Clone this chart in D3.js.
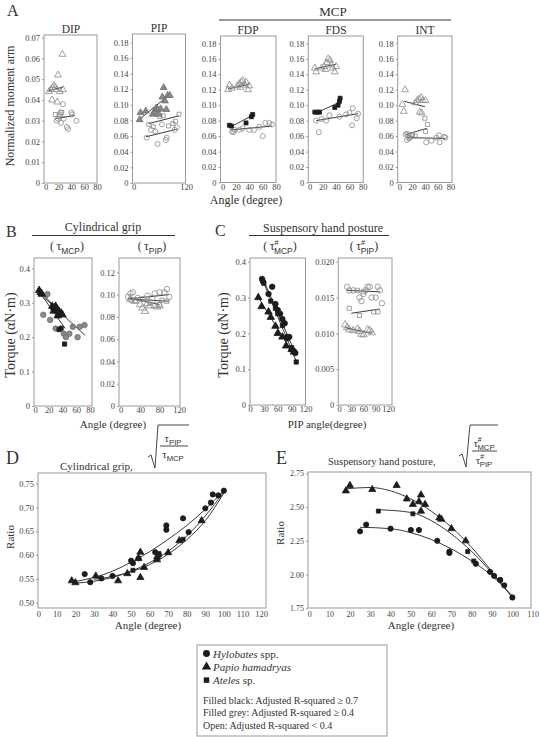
<!DOCTYPE html>
<html>
<head>
<meta charset="utf-8">
<script src="https://cdn.jsdelivr.net/npm/d3@7"></script>
<style>
body { margin: 0; background: #fff; }
svg { font-family: "Liberation Serif", "DejaVu Serif", serif; }
</style>
</head>
<body>
<svg width="540" height="737"></svg>
<script>
// ---- data ----
// A: normalized moment arm vs angle
var dipTri  = [[5,0.044],[8,0.045],[10,0.040],[11,0.046],[13,0.047],[15,0.046],[17,0.045],[18,0.039],[19,0.052],[22,0.044],[26,0.062],[27,0.045]];
var dipCirc = [[17,0.030],[19,0.031],[22,0.033],[23,0.034],[27,0.038],[28,0.031],[33,0.027],[35,0.026],[40,0.034],[41,0.033],[48,0.030],[24,0.029]];
var dipSq   = [[15,0.033],[21,0.032],[25,0.034]];
var dipTriFit  = [[5,0.0445],[27,0.0462]];
var dipCircFit = [[15,0.031],[45,0.0325]];

var pipTri  = [[14,0.081],[16,0.090],[28,0.092],[44,0.088],[48,0.091],[52,0.096],[55,0.094],[58,0.088],[62,0.095],[66,0.110],[69,0.122],[72,0.105],[75,0.094],[78,0.112],[83,0.112]];
var pipSq   = [[35,0.075],[45,0.072],[60,0.085],[68,0.086],[80,0.073],[90,0.076],[96,0.079],[104,0.088]];
var pipCirc = [[30,0.058],[40,0.068],[50,0.066],[55,0.050],[65,0.075],[74,0.055],[76,0.058],[94,0.068],[99,0.071]];
var pipTriFit  = [[15,0.082],[80,0.112]];
var pipSqFit   = [[35,0.076],[104,0.086]];
var pipCircFit = [[28,0.059],[100,0.069]];

var fdpTri  = [[8,0.120],[10,0.126],[14,0.122],[22,0.125],[25,0.128],[27,0.123],[28,0.130],[30,0.132],[33,0.126],[35,0.130],[38,0.120],[40,0.125]];
var fdpSq   = [[10,0.074],[13,0.073],[35,0.077],[43,0.085],[45,0.088]];
var fdpCirc = [[14,0.066],[16,0.065],[18,0.068],[25,0.068],[30,0.070],[40,0.068],[47,0.068],[55,0.072],[60,0.060],[64,0.077],[70,0.077],[74,0.075]];
var fdpTriFit  = [[8,0.121],[40,0.127]];
var fdpSqFit   = [[10,0.071],[45,0.087]];
var fdpCircFit = [[12,0.068],[74,0.073]];

var fdsTri  = [[8,0.148],[10,0.143],[18,0.148],[22,0.150],[24,0.146],[26,0.155],[28,0.160],[31,0.158],[33,0.152],[35,0.148],[38,0.143],[40,0.150]];
var fdsSq   = [[8,0.091],[12,0.091],[15,0.091],[38,0.097],[43,0.100],[45,0.105],[46,0.109]];
var fdsCirc = [[10,0.080],[14,0.065],[18,0.082],[25,0.080],[30,0.087],[45,0.085],[55,0.088],[60,0.090],[65,0.096],[64,0.074],[71,0.083],[73,0.089]];
var fdsTriFit  = [[8,0.147],[40,0.153]];
var fdsSqFit   = [[10,0.090],[46,0.104]];
var fdsCircFit = [[10,0.080],[73,0.089]];

var intTri  = [[5,0.101],[7,0.092],[9,0.120],[25,0.103],[28,0.106],[31,0.108],[34,0.110],[37,0.106],[41,0.106],[32,0.091],[35,0.090]];
var intSq   = [[12,0.063],[16,0.058],[20,0.062],[25,0.060],[41,0.066],[44,0.075],[40,0.083]];
var intCirc = [[10,0.062],[12,0.055],[15,0.057],[20,0.060],[42,0.052],[50,0.054],[58,0.058],[62,0.061],[63,0.052],[70,0.059],[72,0.058]];
var intTriFit  = [[8,0.105],[40,0.098]];
var intSqFit   = [[10,0.062],[43,0.070]];
var intCircFit = [[12,0.058],[72,0.057]];

// B: cylindrical grip torque
var bMcpTri  = [[6,0.336],[8,0.330],[10,0.325],[25,0.290],[27,0.276],[28,0.285],[30,0.290],[32,0.280],[33,0.262],[35,0.275],[38,0.270],[40,0.265]];
var bMcpCirc = [[12,0.265],[15,0.320],[18,0.325],[22,0.250],[30,0.225],[42,0.210],[45,0.200],[50,0.210],[55,0.230],[62,0.200],[65,0.230],[72,0.235]];
var bMcpSq   = [[8,0.326],[30,0.280],[35,0.222],[38,0.226],[43,0.180]];
var bMcpTriFit  = [[5,0.338],[40,0.265]];
var bMcpCircFit = [[5,0.330],[73,0.205]];
var bMcpSqFit   = [[5,0.335],[44,0.225]];

var bPipCirc = [[15,0.098],[20,0.101],[25,0.102],[22,0.095],[30,0.095],[35,0.097],[45,0.096],[55,0.099],[65,0.097],[70,0.101],[80,0.102],[90,0.102],[95,0.105],[100,0.098]];
var bPipTri  = [[20,0.096],[30,0.094],[40,0.091],[45,0.088],[50,0.085],[55,0.092],[60,0.090],[70,0.090],[75,0.089],[80,0.090]];
var bPipSq   = [[60,0.093],[80,0.091],[85,0.095],[95,0.094]];
var bPipCircFit = [[15,0.096],[100,0.100]];
var bPipTriFit  = [[15,0.097],[80,0.091]];
var bPipSqFit   = [[20,0.096],[100,0.094]];

// C: suspensory hand posture torque
var cMcpCirc = [[26,0.352],[28,0.345],[40,0.310],[48,0.330],[55,0.282],[60,0.265],[65,0.255],[70,0.240],[75,0.228],[80,0.190],[85,0.190],[90,0.155],[95,0.150],[98,0.145]];
var cMcpTri  = [[18,0.300],[25,0.275],[40,0.260],[45,0.245],[55,0.220],[60,0.200],[70,0.190],[78,0.165],[90,0.155],[95,0.148]];
var cMcpSq   = [[30,0.340],[45,0.290],[55,0.270],[60,0.255],[70,0.222],[80,0.185],[90,0.160],[100,0.120]];
var cMcpCircFit = [[27,0.355],[98,0.145]];
var cMcpTriFit  = [[18,0.300],[95,0.140]];
var cMcpSqFit   = [[30,0.340],[100,0.122]];

var cPipCirc = [[20,0.0165],[25,0.0160],[35,0.0160],[50,0.0150],[55,0.0145],[60,0.0155],[65,0.0160],[70,0.0165],[75,0.0165],[80,0.0150],[90,0.0150],[95,0.0165],[100,0.0160],[105,0.0142]];
var cPipSq   = [[25,0.0135],[45,0.0160],[50,0.0125],[60,0.0158],[85,0.0130],[95,0.0130]];
var cPipTri  = [[15,0.0112],[20,0.0108],[25,0.0105],[35,0.0104],[45,0.0106],[50,0.0103],[55,0.0099],[60,0.0098],[70,0.0105],[75,0.0104],[80,0.0101]];
var cPipCircFit = [[20,0.0160],[100,0.0158]];
var cPipSqFit   = [[30,0.0128],[100,0.0134]];
var cPipTriFit  = [[15,0.0108],[80,0.0100]];

// D: cylindrical grip ratio
var dCirc = [[25,0.560],[28,0.543],[34,0.551],[40,0.556],[50,0.588],[51,0.583],[54,0.593],[63,0.606],[65,0.600],[69,0.662],[69,0.653],[78,0.677],[81,0.648],[90,0.698],[93,0.710],[94,0.727],[97,0.725],[100,0.735]];
var dTri  = [[18,0.546],[20,0.542],[31,0.556],[43,0.546],[48,0.561],[54,0.593],[55,0.606],[55,0.553],[57,0.574],[64,0.590],[64,0.596],[70,0.605],[76,0.630],[88,0.672]];
var dSq   = [[51,0.568],[65,0.603],[78,0.633]];
var dCurve1 = [[18,0.543],[30,0.553],[40,0.566],[50,0.585],[60,0.607],[70,0.633],[80,0.662],[90,0.696],[100,0.735]];
var dCurve2 = [[20,0.541],[30,0.545],[40,0.553],[50,0.566],[60,0.584],[70,0.608],[80,0.640],[90,0.682],[100,0.733]];
var dCurve3 = [[30,0.549],[40,0.555],[50,0.565],[60,0.580],[70,0.602],[80,0.632],[90,0.672],[100,0.730]];

// E: suspensory hand posture ratio
var eTri  = [[18,2.62],[20,2.66],[31,2.63],[43,2.66],[48,2.56],[51,2.52],[54,2.54],[55,2.47],[55,2.59],[57,2.52],[64,2.42],[65,2.41],[70,2.34],[77,2.25]];
var eSq   = [[34,2.47],[51,2.45],[78,2.17],[81,2.10],[94,1.96]];
var eCirc = [[25,2.32],[28,2.37],[40,2.34],[50,2.33],[54,2.33],[63,2.25],[69,2.17],[69,2.16],[82,2.08],[89,2.02],[91,1.99],[94,1.96],[96,1.92],[100,1.83]];
var eCurveTri  = [[18,2.635],[30,2.645],[40,2.62],[50,2.56],[60,2.47],[70,2.35],[80,2.20],[90,2.02],[100,1.83]];
var eCurveSq   = [[34,2.48],[50,2.46],[60,2.40],[70,2.30],[80,2.17],[90,2.01],[100,1.83]];
var eCurveCirc = [[25,2.35],[40,2.34],[50,2.31],[60,2.26],[70,2.19],[80,2.10],[90,1.99],[100,1.84]];

// ---- drawing ----
var svg = d3.select('svg');
var ink = '#333';
var styles = {
  black: { fill: '#1c1c1c', stroke: '#1c1c1c' },
  grey:  { fill: '#8a8a8a', stroke: '#6c6c6c' },
  open:  { fill: 'none',    stroke: '#8a8a8a' }
};
var shapes = { circ: d3.symbolCircle, tri: d3.symbolTriangle, sq: d3.symbolSquare };

function fmt(p) {
  return function(d) { return d === 0 ? '0' : d3.format('.' + p + 'f')(d); };
}

function panel(c) {
  var g = svg.append('g');
  var x = d3.scaleLinear().domain(c.xd).range(c.xr);
  var y = d3.scaleLinear().domain(c.yd).range(c.yr);
  var b = c.box;

  g.append('rect')
    .attr('x', b[0]).attr('y', b[1])
    .attr('width', b[2] - b[0]).attr('height', b[3] - b[1])
    .attr('fill', 'none').attr('stroke', '#9a9a9a').attr('stroke-width', 1);

  var ya = g.append('g')
    .attr('transform', 'translate(' + b[0] + ',0)')
    .call(d3.axisLeft(y).tickValues(c.yt).tickFormat(c.yf).tickSize(2).tickPadding(2));
  var xa = g.append('g')
    .attr('transform', 'translate(0,' + b[3] + ')')
    .call(d3.axisBottom(x).tickValues(c.xt).tickFormat(d3.format('d')).tickSize(0).tickPadding(c.pad || 1));
  [ya, xa].forEach(function(a) {
    a.attr('font-family', null).attr('font-size', null).attr('color', '#444');
    a.select('.domain').remove();
    a.selectAll('line').attr('stroke', '#9a9a9a');
    a.selectAll('text').attr('fill', '#444').attr('font-size', c.fs || 8.5);
  });

  var line = d3.line().x(function(d) { return x(d[0]); }).y(function(d) { return y(d[1]); });
  if (c.curve) line.curve(d3.curveMonotoneX);

  (c.fits || []).forEach(function(f) {
    g.append('path').datum(f).attr('d', line)
      .attr('fill', 'none').attr('stroke', '#3a3a3a').attr('stroke-width', 1);
  });

  (c.series || []).forEach(function(s) {
    var st = styles[s.fill];
    g.selectAll(null).data(s.pts).enter().append('path')
      .attr('transform', function(d) { return 'translate(' + x(d[0]) + ',' + y(d[1]) + ')'; })
      .attr('d', d3.symbol().type(shapes[s.shape]).size(s.size || c.size || 20))
      .attr('fill', st.fill).attr('stroke', st.stroke).attr('stroke-width', 0.8);
  });
  return g;
}

function txt(x, y, s, size, opts) {
  opts = opts || {};
  var t = svg.append('text').attr('x', x).attr('y', y)
    .attr('font-size', size).attr('fill', ink)
    .attr('text-anchor', opts.anchor || 'middle').text(s);
  if (opts.rotate) t.attr('transform', 'rotate(-90,' + x + ',' + y + ')');
  return t;
}

function tau(cx, y, sub, hash, fs, paren) {
  var t = svg.append('text').attr('x', cx).attr('y', y)
    .attr('text-anchor', 'middle').attr('font-size', fs).attr('fill', ink);
  if (paren) t.append('tspan').text('(\u2009');
  t.append('tspan').text('\u03c4');
  if (hash) {
    t.append('tspan').attr('font-size', fs * 0.62).attr('dy', -fs * 0.45).text('#')
      .attr('font-family', '"Liberation Sans", sans-serif');
    t.append('tspan').attr('font-size', fs * 0.7).attr('dx', -fs * 0.38).attr('dy', fs * 0.75)
      .attr('font-family', '"Liberation Sans", sans-serif').text(sub);
  } else {
    t.append('tspan').attr('font-size', fs * 0.7).attr('dy', fs * 0.3)
      .attr('font-family', '"Liberation Sans", sans-serif').text(sub);
  }
  if (paren) t.append('tspan').attr('dy', -fs * 0.3).text(')');
}

// ---- Panel A ----
var yA = [0, 0.02, 0.04, 0.06, 0.08, 0.10, 0.12, 0.14, 0.16, 0.18];
panel({ box: [44, 35, 97, 183], xd: [0, 80], xr: [45.7, 97], yd: [0, 0.07], yr: [183, 37.7],
  yt: [0, 0.01, 0.02, 0.03, 0.04, 0.05, 0.06, 0.07], yf: fmt(2), xt: [0, 20, 40, 60, 80],
  fits: [dipTriFit, dipCircFit],
  series: [{ pts: dipTri, shape: 'tri', fill: 'open' }, { pts: dipCirc, shape: 'circ', fill: 'open' }, { pts: dipSq, shape: 'sq', fill: 'open', size: 16 }] });
panel({ box: [132.5, 34, 185.5, 183], xd: [0, 120], xr: [133.5, 186], yd: [0, 0.18], yr: [183, 42.3],
  yt: yA, yf: fmt(2), xt: [0, 120],
  fits: [pipTriFit, pipSqFit, pipCircFit],
  series: [{ pts: pipSq, shape: 'sq', fill: 'open', size: 16 }, { pts: pipCirc, shape: 'circ', fill: 'open' }, { pts: pipTri, shape: 'tri', fill: 'grey' }] });
panel({ box: [220.5, 36, 276, 182.5], xd: [0, 80], xr: [222.7, 276], yd: [0, 0.18], yr: [182.5, 43.3],
  yt: yA, yf: fmt(2), xt: [0, 20, 40, 60, 80],
  fits: [fdpTriFit, fdpSqFit, fdpCircFit],
  series: [{ pts: fdpTri, shape: 'tri', fill: 'open' }, { pts: fdpCirc, shape: 'circ', fill: 'open' }, { pts: fdpSq, shape: 'sq', fill: 'black', size: 16 }] });
panel({ box: [308.3, 36, 363.3, 182.5], xd: [0, 80], xr: [309.5, 362.7], yd: [0, 0.18], yr: [182.5, 43.3],
  yt: yA, yf: fmt(2), xt: [0, 20, 40, 60, 80],
  fits: [fdsTriFit, fdsSqFit, fdsCircFit],
  series: [{ pts: fdsTri, shape: 'tri', fill: 'open' }, { pts: fdsCirc, shape: 'circ', fill: 'open' }, { pts: fdsSq, shape: 'sq', fill: 'black', size: 16 }] });
panel({ box: [397.7, 36, 452, 182.5], xd: [0, 80], xr: [399.3, 450.5], yd: [0, 0.18], yr: [182.5, 43.3],
  yt: yA, yf: fmt(2), xt: [0, 20, 40, 60, 80],
  fits: [intTriFit, intSqFit, intCircFit],
  series: [{ pts: intTri, shape: 'tri', fill: 'open' }, { pts: intSq, shape: 'sq', fill: 'open', size: 16 }, { pts: intCirc, shape: 'circ', fill: 'open' }] });

txt(7, 16, 'A', 16, { anchor: 'start' });
txt(71, 33, 'DIP', 11.5);
txt(159, 32, 'PIP', 11.5);
txt(333, 16, 'MCP', 13);
svg.append('line').attr('x1', 219).attr('x2', 451).attr('y1', 20).attr('y2', 20).attr('stroke', ink).attr('stroke-width', 1);
txt(248, 33.5, 'FDP', 11.5);
txt(336, 33.5, 'FDS', 11.5);
txt(425, 33.5, 'INT', 11.5);
txt(14, 106, 'Normalized  moment arm', 12, { rotate: true });
txt(246, 204, 'Angle (degree)', 12);

// ---- Panel B ----
panel({ box: [34, 258, 92, 406], xd: [0, 80], xr: [35, 90], yd: [0, 0.4], yr: [406, 268.3],
  yt: [0, 0.1, 0.2, 0.3, 0.4], yf: fmt(1), xt: [0, 20, 40, 60, 80], size: 24,
  fits: [bMcpCircFit, bMcpSqFit, bMcpTriFit],
  series: [{ pts: bMcpCirc, shape: 'circ', fill: 'grey' }, { pts: bMcpSq, shape: 'sq', fill: 'black', size: 18 }, { pts: bMcpTri, shape: 'tri', fill: 'black' }] });
panel({ box: [119, 258, 180, 406], xd: [0, 120], xr: [120.7, 179], yd: [0, 0.12], yr: [406, 272.3],
  yt: [0, 0.02, 0.04, 0.06, 0.08, 0.10, 0.12], yf: fmt(2), xt: [0, 40, 80, 120], size: 24,
  fits: [bPipCircFit, bPipTriFit, bPipSqFit],
  series: [{ pts: bPipCirc, shape: 'circ', fill: 'open' }, { pts: bPipTri, shape: 'tri', fill: 'open' }, { pts: bPipSq, shape: 'sq', fill: 'open', size: 18 }] });

txt(6, 236.5, 'B', 16, { anchor: 'start' });
txt(103, 231, 'Cylindrical  grip', 12);
svg.append('line').attr('x1', 32).attr('x2', 175).attr('y1', 235.5).attr('y2', 235.5).attr('stroke', ink).attr('stroke-width', 1.2);
tau(67, 250, 'MCP', false, 12, true);
tau(152, 250, 'PIP', false, 12, true);
txt(15, 335, 'Torque (\u03b1N\u00b7m)', 14, { rotate: true });
txt(113, 428, 'Angle (degree)', 11);

// ---- Panel C ----
panel({ box: [250, 258, 305.5, 405], xd: [0, 120], xr: [250, 305.5], yd: [0, 0.4], yr: [405, 261.7],
  yt: [0, 0.1, 0.2, 0.3, 0.4], yf: fmt(1), xt: [0, 30, 60, 90, 120], size: 24,
  fits: [cMcpCircFit, cMcpTriFit, cMcpSqFit],
  series: [{ pts: cMcpTri, shape: 'tri', fill: 'black' }, { pts: cMcpSq, shape: 'sq', fill: 'black', size: 18 }, { pts: cMcpCirc, shape: 'circ', fill: 'black' }] });
panel({ box: [338.3, 258, 392, 405], xd: [0, 120], xr: [339, 388], yd: [0, 0.02], yr: [405, 261.7],
  yt: [0, 0.005, 0.010, 0.015, 0.020], yf: fmt(3), xt: [0, 30, 60, 90, 120], size: 24,
  fits: [cPipCircFit, cPipSqFit, cPipTriFit],
  series: [{ pts: cPipCirc, shape: 'circ', fill: 'open' }, { pts: cPipSq, shape: 'sq', fill: 'open', size: 18 }, { pts: cPipTri, shape: 'tri', fill: 'open' }] });

txt(215, 236, 'C', 16, { anchor: 'start' });
txt(323, 231.5, 'Suspensory hand posture', 12);
svg.append('line').attr('x1', 249).attr('x2', 389).attr('y1', 235.5).attr('y2', 235.5).attr('stroke', ink).attr('stroke-width', 1.2);
tau(280, 250, 'MCP', true, 12, true);
tau(364, 250, 'PIP', true, 12, true);
txt(228, 335, 'Torque (\u03b1N\u00b7m)', 14, { rotate: true });
txt(327, 428, 'PIP angle(degree)', 11);

// ---- Panel D ----
panel({ box: [38, 473, 266, 608], xd: [0, 120], xr: [38.3, 261], yd: [0.5, 0.75], yr: [602.7, 483.5],
  yt: [0.5, 0.55, 0.6, 0.65, 0.7, 0.75], yf: d3.format('.2f'), xt: d3.range(0, 121, 10), fs: 8.5, pad: 3, size: 22, curve: true,
  fits: [dCurve1, dCurve2, dCurve3],
  series: [{ pts: dTri, shape: 'tri', fill: 'black' }, { pts: dSq, shape: 'sq', fill: 'black', size: 16 }, { pts: dCirc, shape: 'circ', fill: 'black' }] });

txt(6, 464, 'D', 18, { anchor: 'start' });
txt(60, 470, 'Cylindrical grip,', 11, { anchor: 'start' });
svg.append('path').attr('d', 'M148,457 L151,455 L155,468 L158,425 L189,425')
  .attr('fill', 'none').attr('stroke', ink).attr('stroke-width', 0.9);
tau(173, 442, 'PIP', false, 11, false);
svg.append('line').attr('x1', 160).attr('x2', 188).attr('y1', 446).attr('y2', 446).attr('stroke', ink).attr('stroke-width', 0.9);
tau(173, 458, 'MCP', false, 11, false);
txt(14, 537, 'Ratio', 11, { rotate: true });
txt(148, 629, 'Angle (degree)', 11);

// ---- Panel E ----
panel({ box: [308, 472, 531, 608], xd: [0, 110], xr: [309.3, 532.7], yd: [1.75, 2.75], yr: [608.3, 473.3],
  yt: [1.75, 2.0, 2.25, 2.5, 2.75], yf: d3.format('.2f'), xt: d3.range(0, 111, 10), fs: 8, pad: 3, size: 22, curve: true,
  fits: [eCurveTri, eCurveSq, eCurveCirc],
  series: [{ pts: eTri, shape: 'tri', fill: 'black' }, { pts: eSq, shape: 'sq', fill: 'black', size: 16 }, { pts: eCirc, shape: 'circ', fill: 'black' }] });

txt(276, 464, 'E', 18, { anchor: 'start' });
txt(328, 465, 'Suspensory hand posture,', 10.5, { anchor: 'start' });
svg.append('path').attr('d', 'M459,456 L462,454 L466,467 L470,425 L498,425')
  .attr('fill', 'none').attr('stroke', ink).attr('stroke-width', 0.9);
tau(484, 447, 'MCP', true, 11, false);
svg.append('line').attr('x1', 472).attr('x2', 497).attr('y1', 451).attr('y2', 451).attr('stroke', ink).attr('stroke-width', 0.9);
tau(484, 464, 'PIP', true, 11, false);
txt(284, 533, 'Ratio', 11, { rotate: true });
txt(421, 629, 'Angle (degree)', 11);

// ---- Legend ----
var legSpecies = [
  { shape: 'circ', name: 'Hylobates', rest: ' spp.' },
  { shape: 'tri', name: 'Papio hamadryas', rest: '' },
  { shape: 'sq', name: 'Ateles', rest: ' sp.' }
];
var legRules = ['Filled black: Adjusted R-squared \u2265 0.7', 'Filled grey: Adjusted R-squared \u2265 0.4', 'Open: Adjusted R-squared < 0.4'];

svg.append('rect').attr('x', 197).attr('y', 645).attr('width', 190).attr('height', 91)
  .attr('fill', 'none').attr('stroke', '#9a9a9a').attr('stroke-width', 1);
legSpecies.forEach(function(s, i) {
  var yy = 653.5 + i * 13.3;
  svg.append('path').attr('transform', 'translate(206.5,' + yy + ')')
    .attr('d', d3.symbol().type(shapes[s.shape]).size(s.shape === 'sq' ? 30 : 38))
    .attr('fill', '#1c1c1c');
  var t = svg.append('text').attr('x', 213).attr('y', yy + 4).attr('font-size', 11).attr('fill', ink);
  t.append('tspan').attr('font-style', 'italic').text(s.name);
  t.append('tspan').text(s.rest);
});
legRules.forEach(function(r, i) {
  txt(203, 703.5 + i * 12.6, r, 10, { anchor: 'start' });
});
</script>
</body>
</html>
